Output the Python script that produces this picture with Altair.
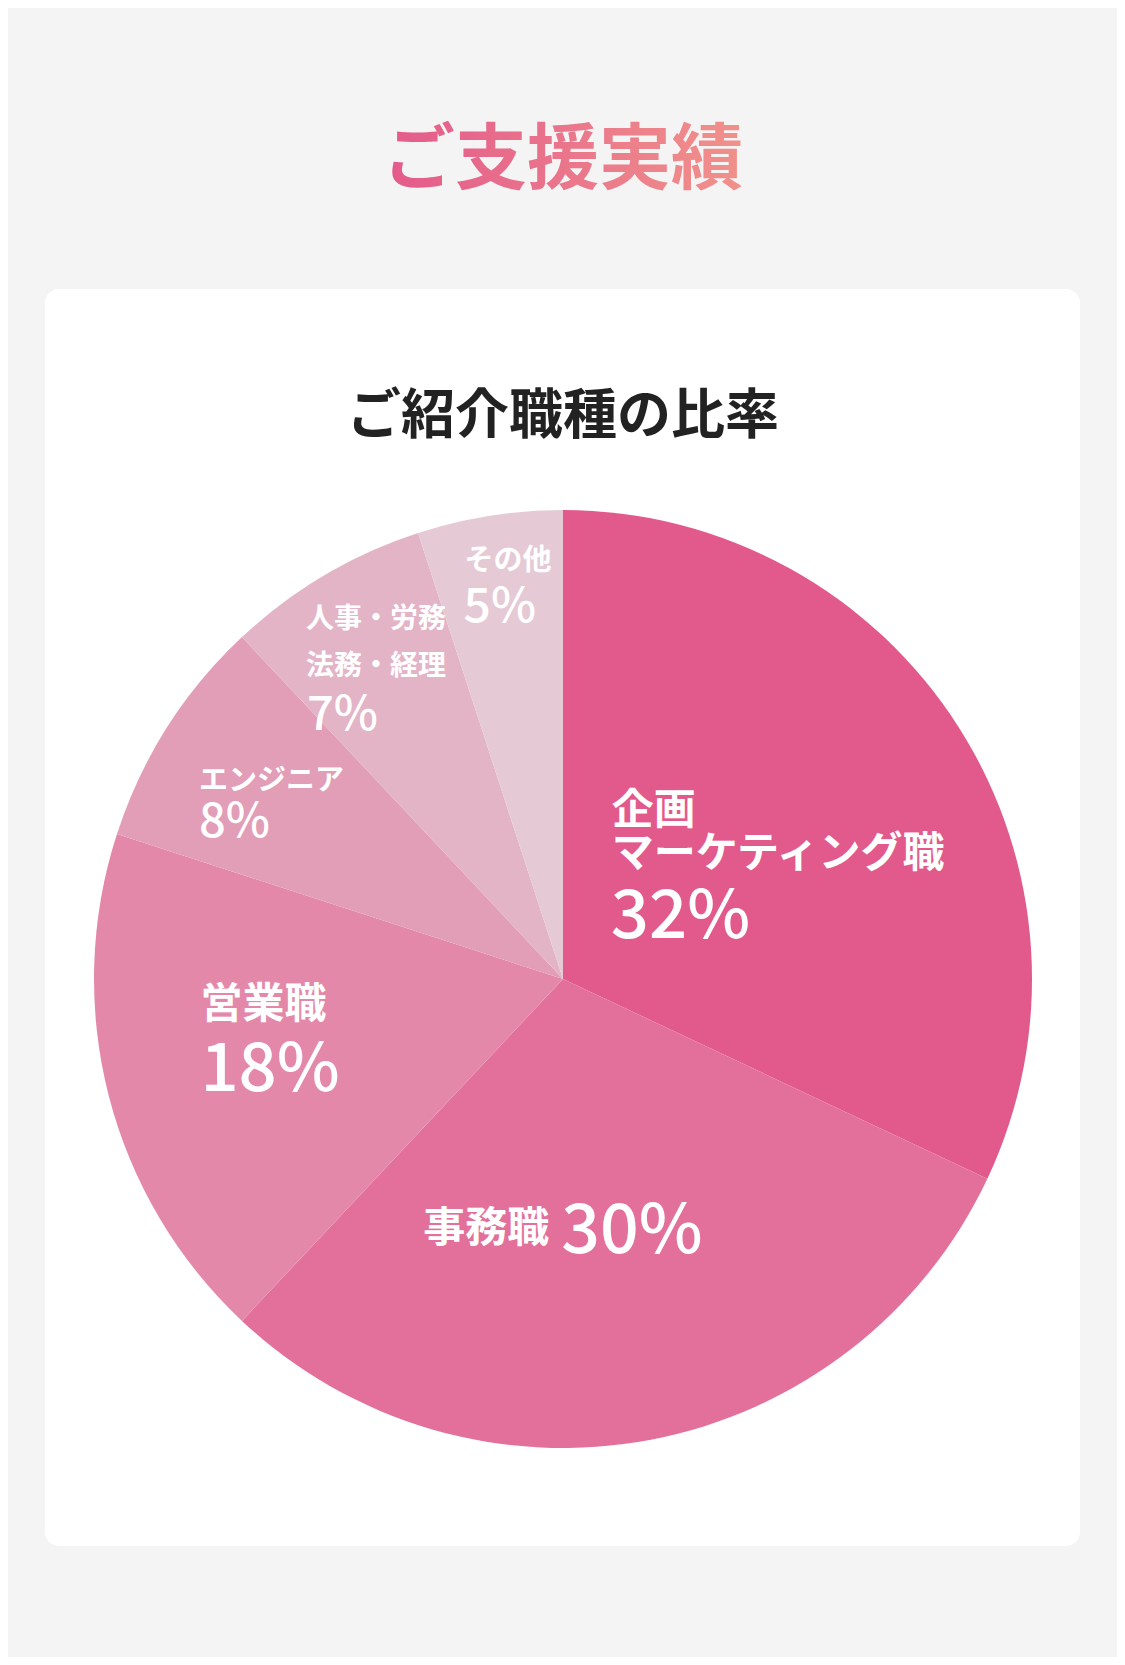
import altair as alt
import pandas as pd

TITLE = "ご支援実績"
SUBTITLE = "ご紹介職種の比率"

jobs = ["企画マーケティング職", "事務職", "営業職", "エンジニア", "人事・労務 法務・経理", "その他"]
shares = [32, 30, 18, 8, 7, 5]
name_line1 = ["企画", "事務職", "営業職", "エンジニア", "人事・労務", "その他"]
name_line2 = ["マーケティング職", "", "", "", "法務・経理", ""]
slice_colors = ["#e2598b", "#e3709b", "#e488aa", "#e29db7", "#e3b4c6", "#e5cad5"]

FONT = "Noto Sans CJK JP"
W, H = 1109, 1649
CX, CY, R = 555, 971, 469

df = pd.DataFrame(
    {
        "job": jobs,
        "share": shares,
        "line1": name_line1,
        "line2": name_line2,
        "pct": [f"{s}%" for s in shares],
        "order": list(range(len(jobs))),
    }
)

card = (
    alt.Chart(pd.DataFrame({"k": [0]}))
    .mark_rect(cornerRadius=14, color="white")
    .encode(x=alt.value(37), x2=alt.value(1072), y=alt.value(281), y2=alt.value(1538))
)

title_fill = {
    "gradient": "linear",
    "x1": 0,
    "y1": 0,
    "x2": 1,
    "y2": 0,
    "stops": [
        {"offset": 0, "color": "#e35a8c"},
        {"offset": 1, "color": "#f1918a"},
    ],
}

title = (
    alt.Chart(pd.DataFrame({"t": [TITLE]}))
    .mark_text(font=FONT, fontSize=72, fontWeight="bold", align="center",
               baseline="alphabetic", fill=title_fill)
    .encode(text="t:N", x=alt.value(555), y=alt.value(175))
)

subtitle = (
    alt.Chart(pd.DataFrame({"t": [SUBTITLE]}))
    .mark_text(font=FONT, fontSize=54, fontWeight="bold", align="center",
               baseline="alphabetic", color="#222222")
    .encode(text="t:N", x=alt.value(555), y=alt.value(426))
)

pie = (
    alt.Chart(df)
    .mark_arc(radius=R)
    .encode(
        theta=alt.Theta("share:Q", stack=True, scale=alt.Scale(domain=[0, 100])),
        color=alt.Color("job:N", scale=alt.Scale(domain=jobs, range=slice_colors), legend=None),
        order=alt.Order("order:Q"),
        x=alt.value(CX),
        y=alt.value(CY),
    )
)

# midpoint of each slice, so labels hang off the pie's own angles
label_base = (
    alt.Chart(df)
    .transform_window(cum="sum(share)", sort=[alt.SortField("order")], frame=[None, 0])
    .transform_calculate(mid="datum.cum - datum.share / 2")
)


def label(job, field, size, weight, r, dx, dy):
    return (
        label_base.transform_filter(alt.datum.job == job)
        .mark_text(radius=r, dx=dx, dy=dy, align="left", baseline="alphabetic",
                   font=FONT, fontSize=size, fontWeight=weight, color="white")
        .encode(
            theta=alt.Theta("mid:Q", stack=False, scale=alt.Scale(domain=[0, 100])),
            text=f"{field}:N",
            x=alt.value(CX),
            y=alt.value(CY),
        )
    )


labels = [
    label(jobs[0], "line1", 42, "bold", 220, -137, -37),
    label(jobs[0], "line2", 42, "bold", 220, -137, 6),
    label(jobs[0], "pct", 67, 500, 220, -138, 77),
    label(jobs[1], "line1", 42, "bold", 290, -194, -22),
    label(jobs[1], "pct", 68, 500, 290, -56, -11),
    label(jobs[2], "line1", 42, "bold", 300, -72, -36),
    label(jobs[2], "pct", 67, 500, 300, -72, 37),
    label(jobs[3], "line1", 29, "bold", 360, -60, 4),
    label(jobs[3], "pct", 47, 500, 360, -60, 51),
    label(jobs[4], "line1", 28, "bold", 340, -84, -58),
    label(jobs[4], "line2", 28, "bold", 340, -84, -11),
    label(jobs[4], "pct", 47, 500, 340, -83, 44),
    label(jobs[5], "line1", 29, "bold", 380, -39, -34),
    label(jobs[5], "pct", 48, 500, 380, -40, 18),
]

chart = (
    alt.layer(card, title, subtitle, pie, *labels)
    .properties(
        width=W,
        height=H,
        background="#f4f4f4",
        padding=0,
        autosize=alt.AutoSizeParams(type="none"),
    )
    .configure_view(stroke=None)
)

chart.save("out.html", embed_options={"renderer": "svg", "actions": False})
